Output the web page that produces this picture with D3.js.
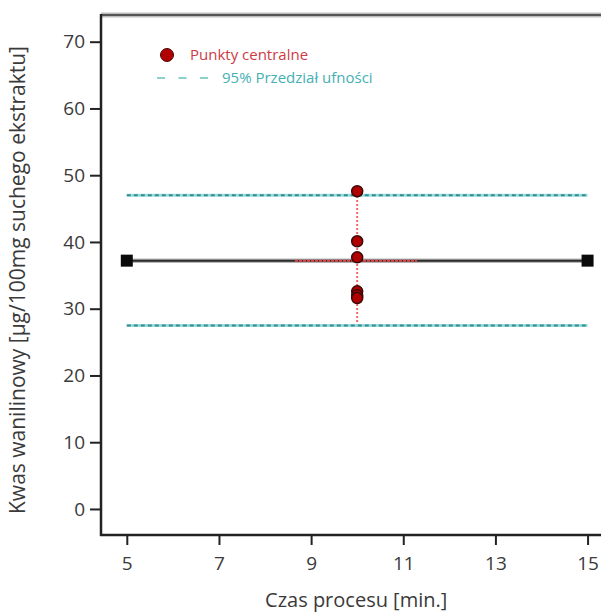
<!DOCTYPE html>
<html>
<head>
<meta charset="utf-8">
<script src="https://cdn.jsdelivr.net/npm/d3@7"></script>
<style>
  html, body { margin: 0; padding: 0; background: #fff; }
  svg { display: block; font-family: "Open Sans", "Noto Sans", sans-serif; }
</style>
</head>
<body>
<svg id="chart" width="601" height="614"></svg>
<script>
// Central-point replicates of the process-time design
const centerX = 10;
const centerValues = [47.6, 40.1, 37.7, 32.6, 32.0, 31.6];

// Model line between the factorial ends
const modelX = [5, 15];
const modelY = [37.2, 37.2];

// 95% confidence interval bounds
const ciLower = 27.5;
const ciUpper = 47.0;
const ciRange = [5, 15];

// Spread of the centre points (vertical) and centre-line segment (horizontal)
const centerSpread = [28.0, 47.6];
const centerSegment = [8.65, 11.3];

const xTicks = [5, 7, 9, 11, 13, 15];
const yTicks = [0, 10, 20, 30, 40, 50, 60, 70];

const legendLabels = ["Punkty centralne", "95% Przedział ufności"];
const xTitle = "Czas procesu [min.]";
const yTitle = "Kwas wanilinowy [µg/100mg suchego ekstraktu]";

const svg = d3.select("#chart");
const plotLeft = 101, plotTop = 15, plotBottom = 535, plotRight = 606;

const x = d3.scaleLinear().domain([4.44, 15.4]).range([plotLeft, plotRight]);
const y = d3.scaleLinear().domain([-3.9, 74]).range([plotBottom, plotTop]);

const textColor = "#3a3a3a";

// Plot frame (top edge soft grey, right edge runs past the view)
svg.append("line")
  .attr("x1", plotLeft).attr("x2", plotRight + 10)
  .attr("y1", plotTop).attr("y2", plotTop)
  .attr("stroke", "#bdbdbd").attr("stroke-width", 5);
svg.append("line")
  .attr("x1", plotLeft).attr("x2", plotRight + 10)
  .attr("y1", plotTop).attr("y2", plotTop)
  .attr("stroke", "#555").attr("stroke-width", 2);

// Axes
const yAxis = d3.axisLeft(y).tickValues(yTicks).tickSize(11).tickPadding(5).tickSizeOuter(0);
const gy = svg.append("g").attr("transform", `translate(${plotLeft},0)`).call(yAxis);
const xAxis = d3.axisBottom(x).tickValues(xTicks).tickSize(10).tickPadding(12).tickSizeOuter(0);
const gx = svg.append("g").attr("transform", `translate(0,${plotBottom})`).call(xAxis);

[gx, gy].forEach(g => {
  g.select(".domain").remove();
  g.selectAll(".tick line").attr("stroke", "#222").attr("stroke-width", 2);
  g.selectAll(".tick text")
    .attr("fill", textColor)
    .style("font-size", "19px")
    .style("font-family", "'Open Sans', 'Noto Sans', sans-serif");
});

svg.append("line")
  .attr("x1", plotLeft).attr("x2", plotLeft)
  .attr("y1", plotTop - 1).attr("y2", plotBottom + 1)
  .attr("stroke", "#222").attr("stroke-width", 2.5);
svg.append("line")
  .attr("x1", plotLeft - 1).attr("x2", plotRight + 10)
  .attr("y1", plotBottom).attr("y2", plotBottom)
  .attr("stroke", "#222").attr("stroke-width", 2.5);

// Axis titles
svg.append("text")
  .attr("x", (x(5) + x(15)) / 2 - 1).attr("y", 607)
  .attr("text-anchor", "middle")
  .attr("fill", textColor)
  .style("font-size", "20px")
  .text(xTitle);

svg.append("text")
  .attr("transform", `translate(25,${(plotTop + plotBottom) / 2 + 5}) rotate(-90)`)
  .attr("text-anchor", "middle")
  .attr("fill", textColor)
  .style("font-size", "21px")
  .text(yTitle);

// Confidence interval lines
[ciLower, ciUpper].forEach(v => {
  svg.append("line")
    .attr("x1", x(ciRange[0])).attr("x2", x(ciRange[1]))
    .attr("y1", y(v)).attr("y2", y(v))
    .attr("stroke", "#9fdada").attr("stroke-width", 3);
  svg.append("line")
    .attr("x1", x(ciRange[0])).attr("x2", x(ciRange[1]))
    .attr("y1", y(v)).attr("y2", y(v))
    .attr("stroke", "#2f8f95").attr("stroke-width", 2)
    .attr("stroke-dasharray", "4,3");
});

// Model line with end markers
svg.append("line")
  .attr("x1", x(modelX[0])).attr("x2", x(modelX[1]))
  .attr("y1", y(modelY[0])).attr("y2", y(modelY[1]))
  .attr("stroke", "#b5b5b5").attr("stroke-width", 4.5);
svg.append("line")
  .attr("x1", x(modelX[0])).attr("x2", x(modelX[1]))
  .attr("y1", y(modelY[0])).attr("y2", y(modelY[1]))
  .attr("stroke", "#2a2a2a").attr("stroke-width", 2);

// Centre-line segment through the centre points
svg.append("line")
  .attr("x1", x(centerSegment[0])).attr("x2", x(centerSegment[1]))
  .attr("y1", y(modelY[0])).attr("y2", y(modelY[0]))
  .attr("stroke", "#e0454a").attr("stroke-width", 2)
  .attr("stroke-dasharray", "3,1");

// Vertical spread of the centre points
svg.append("line")
  .attr("x1", x(centerX)).attr("x2", x(centerX))
  .attr("y1", y(centerSpread[0])).attr("y2", y(centerSpread[1]))
  .attr("stroke", "#f06a6e").attr("stroke-width", 2)
  .attr("stroke-dasharray", "2,2");

svg.selectAll("rect.end")
  .data(modelX.map((d, i) => [d, modelY[i]]))
  .join("rect")
  .attr("class", "end")
  .attr("x", d => x(d[0]) - 6).attr("y", d => y(d[1]) - 6)
  .attr("width", 12).attr("height", 12)
  .attr("fill", "#0a0a0a");

// Centre points
svg.selectAll("circle.pt")
  .data(centerValues)
  .join("circle")
  .attr("class", "pt")
  .attr("cx", x(centerX)).attr("cy", d => y(d))
  .attr("r", 5.5)
  .attr("fill", "#b00000")
  .attr("stroke", "#3a0a0a").attr("stroke-width", 1.5);

// Legend
const lg = svg.append("g");
lg.append("circle")
  .attr("cx", 167).attr("cy", 55).attr("r", 6.5)
  .attr("fill", "#b00000").attr("stroke", "#4a0a0a").attr("stroke-width", 1);
lg.append("text")
  .attr("x", 190).attr("y", 60)
  .attr("fill", "#cc3a44")
  .style("font-size", "15px")
  .text(legendLabels[0]);
lg.append("line")
  .attr("x1", 157).attr("x2", 208)
  .attr("y1", 78).attr("y2", 78)
  .attr("stroke", "#8ccfcc").attr("stroke-width", 2)
  .attr("stroke-dasharray", "8,13.5");
lg.append("text")
  .attr("x", 222).attr("y", 83)
  .attr("fill", "#45b0b4")
  .style("font-size", "15px")
  .text(legendLabels[1]);
</script>
</body>
</html>
